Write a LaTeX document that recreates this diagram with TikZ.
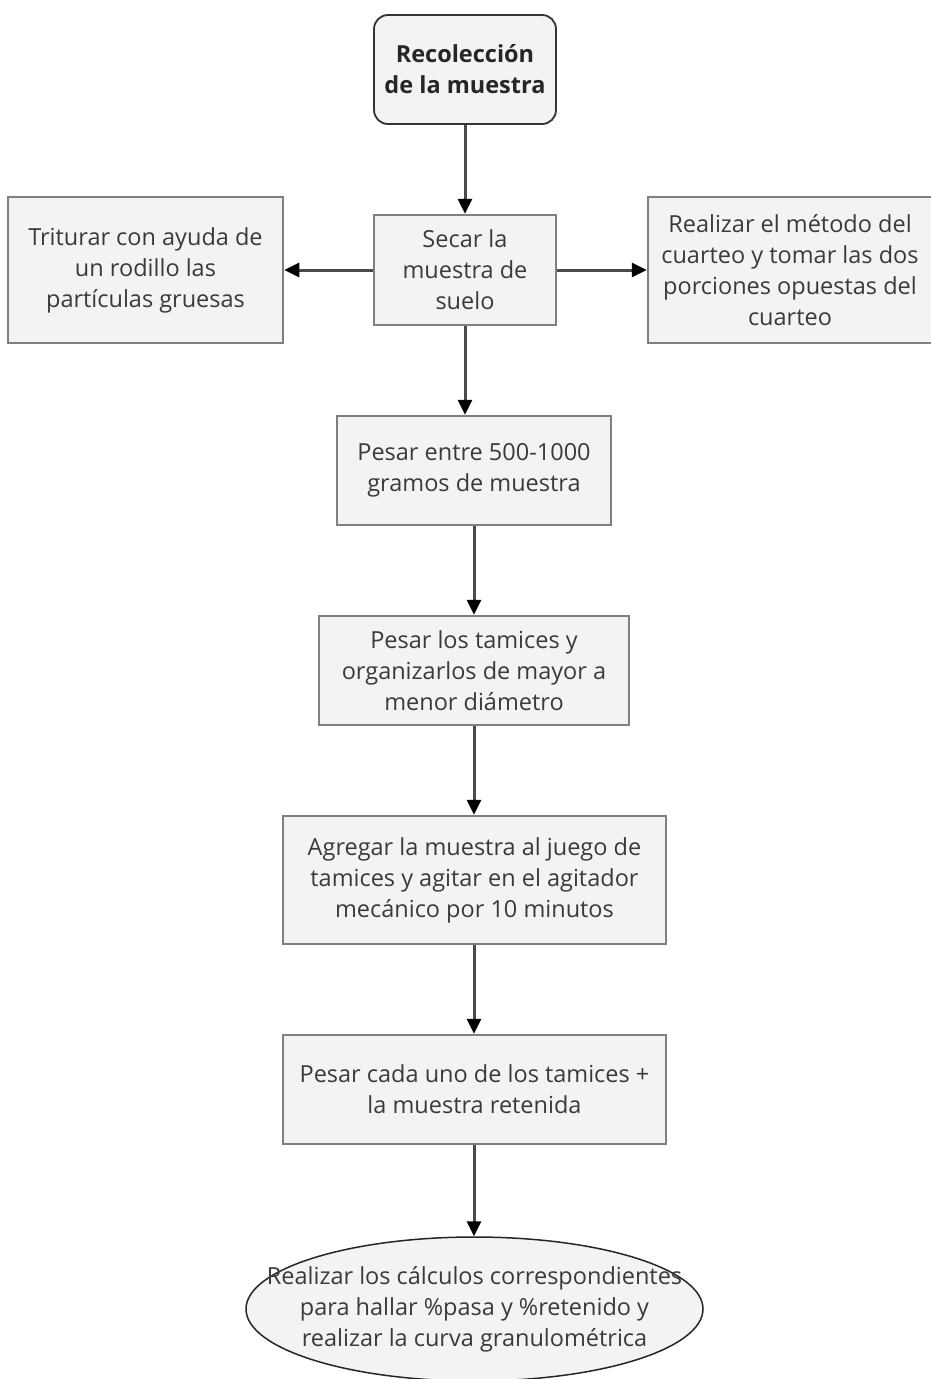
\documentclass[tikz,border=0pt]{standalone}
\usepackage{fontspec}
\setmainfont{Open Sans}
\usetikzlibrary{arrows.meta,shapes.geometric}
\definecolor{boxfill}{HTML}{F3F3F3}
\definecolor{boxdraw}{HTML}{808080}
\definecolor{txt}{HTML}{3A3A3A}
\definecolor{linec}{HTML}{4A4A4A}
\begin{document}
\begin{tikzpicture}[x=1pt,y=-1pt,
  every node/.style={font=\fontsize{23.5}{31}\selectfont, text=txt, align=center, inner sep=0pt},
  stepbox/.style={draw=boxdraw, line width=2.5pt, fill=boxfill, rectangle},
  startbox/.style={draw=black!80, line width=1.8pt, fill=boxfill, rounded corners=14pt, font=\fontsize{23.5}{31}\selectfont\bfseries, text=black!85},
  endell/.style={draw=black!85, line width=1.5pt, fill=boxfill, ellipse},
  arr/.style={draw=linec, line width=3pt, -{Triangle[length=15pt,width=14pt,color=black]}}
]
\useasboundingbox (0,0) rectangle (930,1379);
\node[startbox, minimum width=182pt, minimum height=109pt] (rec) at (465,69.5) {Recolección\\de la muestra};
\node[stepbox, minimum width=182pt, minimum height=110pt] (sec) at (465,270) {Secar la\\muestra de\\suelo};
\node[stepbox, minimum width=275pt, minimum height=146pt] (tri) at (145.5,270) {Triturar con ayuda de\\un rodillo las\\partículas gruesas};
\node[stepbox, minimum width=284pt, minimum height=146pt] (cua) at (790,270) {Realizar el método del\\cuarteo y tomar las dos\\porciones opuestas del\\cuarteo};
\node[stepbox, minimum width=274pt, minimum height=109pt] (pes) at (474,470.5) {Pesar entre 500-1000\\gramos de muestra};
\node[stepbox, minimum width=310pt, minimum height=109pt] (tam) at (474,670.5) {Pesar los tamices y\\organizarlos de mayor a\\menor diámetro};
\node[stepbox, minimum width=383pt, minimum height=128pt] (agr) at (474.5,880) {Agregar la muestra al juego de\\tamices y agitar en el agitador\\mecánico por 10 minutos};
\node[stepbox, minimum width=383pt, minimum height=109pt] (cad) at (474.5,1089.5) {Pesar cada uno de los tamices +\\la muestra retenida};
\node[endell, minimum width=457pt, minimum height=144pt] (cal) at (474.5,1309) {};
\node (caltext) at (cal.center) {Realizar los cálculos correspondientes\\para hallar \%pasa y \%retenido y\\realizar la curva granulométrica};
\draw[arr] (rec.south) -- (sec.north);
\draw[arr] (sec.west) -- (tri.east);
\draw[arr] (sec.east) -- (cua.west);
\draw[arr] (sec.south) -- (pes.north -| sec.south);
\draw[arr] (pes.south) -- (tam.north);
\draw[arr] (tam.south) -- (agr.north -| tam.south);
\draw[arr] (agr.south -| tam.south) -- (cad.north -| tam.south);
\draw[arr] (cad.south -| tam.south) -- (cal.north -| tam.south);
\end{tikzpicture}
\end{document}
